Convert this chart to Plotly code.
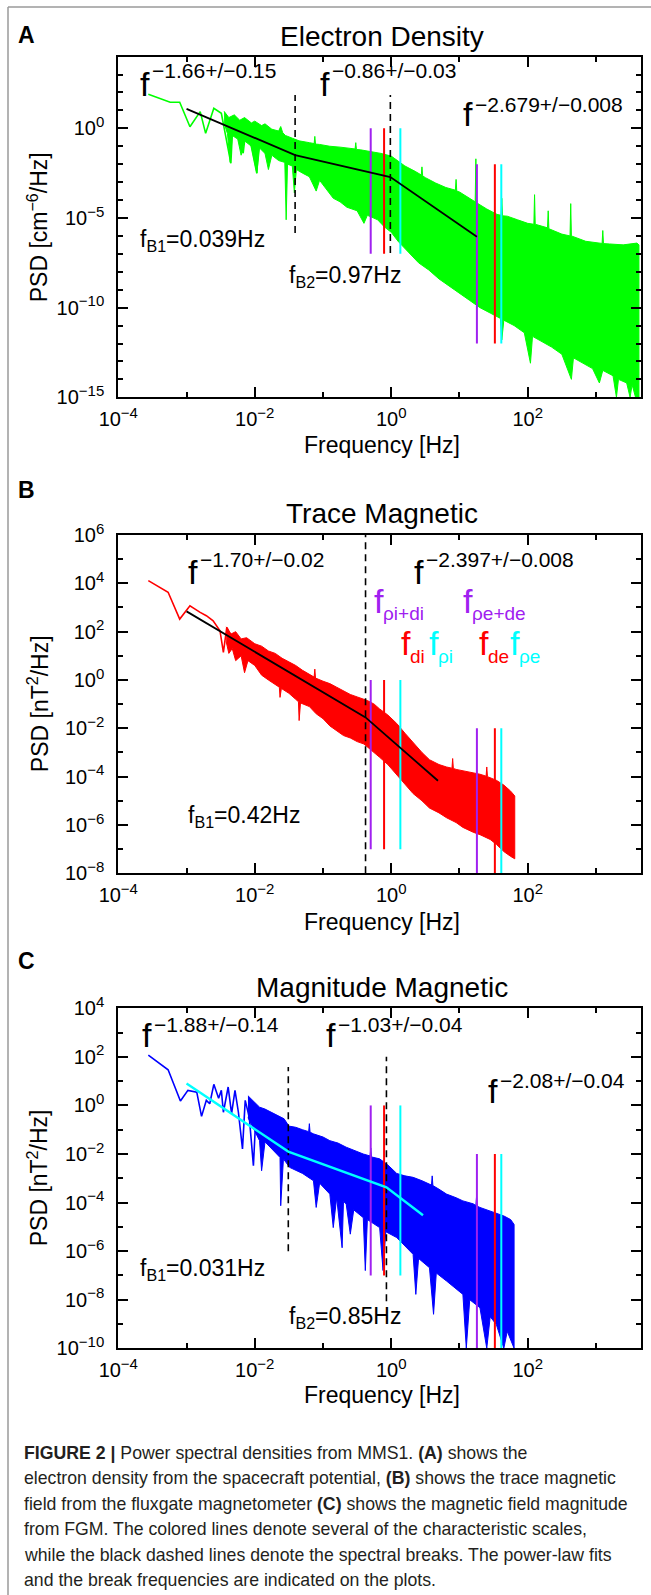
import numpy as np
import plotly.graph_objects as go

W, H = 651, 1595
FONT = "Liberation Sans, Arial, Helvetica, sans-serif"
CAP_FONT = FONT

PURPLE, RED, CYAN = "#A020F0", "#FF0000", "#00FFFF"

# ---------------- values (log10 units) ----------------
# Panel A : electron density
A_line_logf = [-3.56, -3.24, -3.10, -2.95, -2.80, -2.72, -2.60, -2.49, -2.35, -2.32, -2.17, -2.12, -1.97, -1.93]
A_line_logp = [1.90, 1.45, 1.45, 0.09, 0.93, -0.28, 1.12, 0.84, -1.95, 0.46, -1.39, 0.28, -2.51, 0.10]
A_up_logf = [-2.45, -2.38, -2.30, -2.22, -2.15, -2.05, -2.00, -1.90, -1.85, -1.75, -1.65, -1.62, -1.59, -1.55,
             -1.45, -1.35, -1.20, -1.13, -1.12, -1.11, -1.05, -0.90, -0.75, -0.60, -0.53, -0.52, -0.51, -0.45,
             -0.30, -0.15, 0.00, 0.10, 0.20, 0.35, 0.44, 0.45, 0.46, 0.50, 0.65, 0.80, 0.94, 0.95, 0.96,
             1.00, 1.15, 1.23, 1.24, 1.25, 1.40, 1.55, 1.61, 1.62, 1.63, 1.70, 1.85, 2.00, 2.09, 2.10, 2.11,
             2.29, 2.30, 2.31, 2.50, 2.62, 2.63, 2.64, 2.85, 3.00, 3.09, 3.10, 3.11, 3.20, 3.40, 3.60, 3.63]
A_up_logp = [0.95, 0.60, 0.75, 0.45, 0.60, 0.30, 0.40, 0.15, 0.25, -0.05, -0.15, 0.10, -0.25, -0.40,
             -0.55, -0.70, -0.80, -0.85, -0.45, -0.88, -0.90, -1.00, -1.05, -1.10, -1.15, -0.80, -1.18, -1.20,
             -1.30, -1.40, -1.55, -1.85, -2.10, -2.40, -2.60, -2.15, -2.65, -2.75, -3.05, -3.30, -3.45, -2.85, -3.50,
             -3.55, -3.90, -4.10, -1.70, -4.15, -4.50, -4.80, -4.85, -3.90, -4.88, -4.90, -5.10, -5.30, -5.35, -3.70, -5.35,
             -5.55, -4.60, -5.60, -5.90, -6.00, -4.20, -6.00, -6.30, -6.40, -6.42, -5.70, -6.43, -6.45, -6.50, -6.40, -6.50]
A_lo_logf = [-2.45, -2.40, -2.36, -2.33, -2.25, -2.20, -2.15, -2.05, -1.97, -1.93, -1.85, -1.80, -1.75, -1.65,
             -1.56, -1.54, -1.52, -1.45, -1.42, -1.39, -1.30, -1.20, -1.10, -1.05, -0.95, -0.85, -0.75, -0.65,
             -0.50, -0.40, -0.35, -0.20, -0.10, 0.00, 0.10, 0.25, 0.40, 0.55, 0.70, 0.85, 1.00, 1.15, 1.30,
             1.45, 1.60, 1.62, 1.65, 1.80, 1.95, 2.04, 2.07, 2.20, 2.35, 2.50, 2.64, 2.67, 2.80, 2.95, 3.05,
             3.10, 3.25, 3.30, 3.33, 3.45, 3.50, 3.53, 3.58, 3.63]
A_lo_logp = [0.30, -0.30, -1.90, -0.40, -0.60, -1.50, -0.70, -1.00, -2.50, -1.10, -1.40, -2.30, -1.50, -1.80,
             -1.90, -5.10, -2.00, -2.10, -3.60, -2.30, -2.50, -2.70, -3.50, -2.90, -3.40, -3.90, -4.10, -4.40,
             -4.60, -5.30, -4.85, -5.10, -5.50, -5.80, -6.30, -6.90, -7.50, -7.90, -8.40, -8.80, -9.20, -9.60, -10.00,
             -10.30, -10.60, -11.80, -10.70, -11.00, -11.40, -13.10, -11.60, -11.90, -12.20, -12.60, -14.00, -12.80, -13.10, -13.40, -14.20,
             -13.50, -13.80, -15.00, -14.00, -14.20, -15.00, -14.30, -15.00, -15.00]
A_fit_f = [0.001, 0.039, 0.97, 18.0]
A_fit_logp = [1.08, -1.49, -2.72, -6.05]
A_break_f = [0.039, 0.97]
A_break_top = [1.86, 1.86]
A_break_bot = [-5.84, -6.96]

# Panel B : trace magnetic
B_line_logf = [-3.56, -3.27, -3.10, -2.95, -2.80, -2.71, -2.61, -2.56, -2.51, -2.46, -2.41, -2.32, -2.22, -2.12]
B_line_logp = [4.11, 3.63, 2.52, 3.07, 2.80, 2.66, 2.45, 2.24, 2.04, 1.14, 2.18, 1.70, 1.42, 1.63]
B_up_logf = [-2.42, -2.35, -2.28, -2.20, -2.12, -2.00, -1.90, -1.80, -1.70, -1.60, -1.50, -1.40, -1.30, -1.20,
             -1.13, -1.12, -1.11, -1.00, -0.90, -0.80, -0.70, -0.60, -0.50, -0.40, -0.35, -0.25, -0.17, -0.05,
             0.08, 0.20, 0.32, 0.45, 0.56, 0.70, 0.81, 0.89, 0.90, 0.91, 0.95, 1.10, 1.30, 1.39, 1.40,
             1.41, 1.45, 1.54, 1.65, 1.75, 1.81]
B_up_logp = [2.20, 1.90, 2.00, 1.70, 1.75, 1.50, 1.40, 1.20, 1.10, 0.90, 0.75, 0.60, 0.40, 0.25,
             0.12, 0.45, 0.08, -0.05, -0.15, -0.30, -0.45, -0.60, -0.70, -0.80, -0.85, -1.00, -1.20, -1.45,
             -1.80, -2.20, -2.60, -3.00, -3.30, -3.50, -3.60, -3.65, -3.25, -3.66, -3.70, -3.78, -3.90, -3.98, -3.60,
             -4.00, -4.05, -4.15, -4.35, -4.60, -4.80]
B_lo_logf = [-2.42, -2.38, -2.33, -2.28, -2.20, -2.15, -2.10, -2.00, -1.90, -1.80, -1.70, -1.64, -1.63, -1.61,
             -1.50, -1.40, -1.36, -1.35, -1.33, -1.20, -1.10, -1.00, -0.90, -0.80, -0.70, -0.60, -0.50, -0.40,
             -0.30, -0.17, -0.05, 0.08, 0.20, 0.32, 0.45, 0.56, 0.70, 0.81, 0.95, 1.05, 1.20, 1.30, 1.45,
             1.54, 1.65, 1.75, 1.81]
B_lo_logp = [1.60, 1.10, 1.30, 0.80, 1.00, 0.30, 0.80, 0.60, 0.20, 0.00, -0.20, -0.30, -0.72, -0.35,
             -0.55, -0.80, -0.90, -1.68, -0.95, -1.10, -1.40, -1.60, -1.90, -2.10, -2.30, -2.40, -2.55, -2.65,
             -2.90, -3.20, -3.50, -3.90, -4.30, -4.70, -5.00, -5.30, -5.50, -5.70, -5.90, -6.10, -6.30, -6.40, -6.60,
             -6.80, -7.10, -7.30, -7.40]
B_fit_f = [0.001, 0.42, 4.84]
B_fit_logp = [2.84, -1.55, -4.17]
B_break_f = [0.42]
B_break_top = [6.0]
B_break_bot = [-8.0]

# Panel C : magnitude magnetic
C_line_logf = [-3.56, -3.27, -3.09, -2.98, -2.85, -2.78, -2.71, -2.66, -2.60, -2.53, -2.49, -2.46, -2.39, -2.34,
               -2.29, -2.24, -2.18, -2.14, -2.08, -2.02, -1.98]
C_line_logp = [2.07, 1.47, 0.18, 0.62, 0.55, -0.45, 0.21, 0.07, 0.87, 0.30, 0.62, -0.28, 0.76, -0.34,
               0.62, -0.28, -1.79, 0.21, -0.50, -2.48, -0.20]
C_up_logf = [-2.10, -2.00, -1.93, -1.85, -1.75, -1.63, -1.57, -1.50, -1.40, -1.30, -1.21, -1.20, -1.19, -1.14,
             -1.00, -0.90, -0.78, -0.66, -0.55, -0.41, -0.31, -0.30, -0.29, -0.17, -0.05, 0.08, 0.20, 0.32,
             0.45, 0.56, 0.59, 0.60, 0.61, 0.70, 0.81, 0.95, 1.05, 1.20, 1.24, 1.25, 1.26, 1.30, 1.45,
             1.54, 1.65, 1.75, 1.80]
C_up_logp = [0.40, 0.10, -0.07, -0.15, -0.30, -0.48, -0.55, -0.85, -0.90, -1.00, -1.08, -0.75, -1.10, -1.17,
             -1.30, -1.45, -1.55, -1.72, -1.85, -2.00, -2.08, -1.75, -2.12, -2.20, -2.45, -2.80, -2.90, -2.96,
             -3.10, -3.24, -3.28, -2.90, -3.30, -3.45, -3.65, -3.80, -3.93, -4.05, -4.12, -3.75, -4.15, -4.20, -4.35,
             -4.41, -4.55, -4.70, -4.90]
C_lo_logf = [-2.10, -1.93, -1.90, -1.85, -1.63, -1.62, -1.58, -1.49, -1.30, -1.14, -1.10, -1.05, -0.90, -0.85,
             -0.80, -0.72, -0.70, -0.66, -0.60, -0.55, -0.41, -0.38, -0.35, -0.17, -0.12, -0.08, 0.08, 0.32,
             0.36, 0.40, 0.56, 0.62, 0.66, 0.81, 1.05, 1.10, 1.15, 1.30, 1.40, 1.45, 1.54, 1.65, 1.70, 1.80]
C_lo_logp = [-0.50, -1.45, -2.69, -1.50, -2.14, -4.13, -2.20, -2.55, -2.80, -3.10, -4.20, -3.20, -3.65, -5.03,
             -3.80, -5.86, -3.95, -4.06, -5.30, -4.30, -4.62, -6.80, -4.70, -5.03, -6.80, -5.20, -5.44, -6.13,
             -7.78, -6.30, -6.68, -8.60, -6.90, -7.23, -7.78, -10.00, -8.00, -8.33, -10.00, -8.70, -9.02, -10.00, -9.30, -10.00]
C_fit_f = [0.001, 0.031, 0.85, 2.92]
C_fit_logp = [0.90, -1.90, -3.37, -4.52]
C_break_f = [0.031, 0.85]
C_break_top = [1.58, 2.00]
C_break_bot = [-6.00, -8.06]

# characteristic scales [Hz] (purple, red, cyan) and their drawn extents (log10 PSD)
ion_scales = [0.50, 0.785, 1.36]
electron_scales = [18.0, 33.0, 41.0]
scale_colors = [PURPLE, RED, CYAN]
ion_span = [-7.0, 0.0]
electron_span = [-12.0, -2.0]

# axis ranges (log10)
x_range = [-4, 3.66]
A_yrange = [-15, 3.96]
B_yrange = [-8, 6]
C_yrange = [-10, 4]

# ---------------- layout geometry (pixels) ----------------
PLOT_L, PLOT_R = 118.3, 641.0
PANELS = {"A": (57.3, 397.3), "B": (535.0, 873.3), "C": (1008.3, 1348.3)}

fig = go.Figure()


def pw(v):
    return [10 ** a for a in v]


def add_panel(k, line_f, line_p, up_f, up_p, lo_f, lo_p, color, fit_f, fit_p, fit_color,
              br_f, br_top, br_bot):
    xa, ya = ("x" if k == 1 else f"x{k}"), ("y" if k == 1 else f"y{k}")
    band_x = pw(up_f) + pw(lo_f[::-1])
    band_y = pw(up_p) + pw(lo_p[::-1])
    fig.add_trace(go.Scatter(x=band_x, y=band_y, mode="lines", fill="toself", fillcolor=color,
                             line=dict(color=color, width=1), xaxis=xa, yaxis=ya, hoverinfo="skip"))
    fig.add_trace(go.Scatter(x=pw(line_f), y=pw(line_p), mode="lines",
                             line=dict(color=color, width=1.6), xaxis=xa, yaxis=ya))
    for f, c in zip(ion_scales, scale_colors):
        fig.add_trace(go.Scatter(x=[f, f], y=pw(ion_span), mode="lines", line=dict(color=c, width=2),
                                 xaxis=xa, yaxis=ya))
    for f, c in zip(electron_scales, scale_colors):
        fig.add_trace(go.Scatter(x=[f, f], y=pw(electron_span), mode="lines", line=dict(color=c, width=2),
                                 xaxis=xa, yaxis=ya))
    for f, t, b in zip(br_f, br_top, br_bot):
        fig.add_trace(go.Scatter(x=[f, f], y=pw([b, t]), mode="lines",
                                 line=dict(color="black", width=1.6, dash="7px,5px"), xaxis=xa, yaxis=ya))
    fig.add_trace(go.Scatter(x=fit_f, y=pw(fit_p), mode="lines",
                             line=dict(color=fit_color, width=2.4 if fit_color != "black" else 1.8),
                             xaxis=xa, yaxis=ya))


add_panel(1, A_line_logf, A_line_logp, A_up_logf, A_up_logp, A_lo_logf, A_lo_logp, "#00FF00",
          A_fit_f, A_fit_logp, "black", A_break_f, A_break_top, A_break_bot)
add_panel(2, B_line_logf, B_line_logp, B_up_logf, B_up_logp, B_lo_logf, B_lo_logp, "#FF0000",
          B_fit_f, B_fit_logp, "black", B_break_f, B_break_top, B_break_bot)
add_panel(3, C_line_logf, C_line_logp, C_up_logf, C_up_logp, C_lo_logf, C_lo_logp, "#0000FF",
          C_fit_f, C_fit_logp, CYAN, C_break_f, C_break_top, C_break_bot)


def sup_label(e):
    return '10<sup><span style="font-size:15px">%s</span></sup>' % (str(e).replace("-", "\u2212"))


def xaxis(anchor):
    major = [-4, -2, 0, 2]
    return dict(type="log", range=x_range, domain=[PLOT_L / W, PLOT_R / W], anchor=anchor,
                showline=True, linecolor="black", linewidth=2, mirror="ticks",
                ticks="inside", ticklen=10, tickwidth=1.5, tickcolor="black",
                tickvals=[10 ** e for e in major], ticktext=[sup_label(e) for e in major],
                tickfont=dict(family=FONT, size=20, color="black"), ticklabelstandoff=3,
                minor=dict(tickvals=[10 ** e for e in [-3, -1, 1, 3]], ticks="inside", ticklen=5,
                           tickwidth=1.5, tickcolor="black", showgrid=False),
                showgrid=False, zeroline=False, fixedrange=True, automargin=False)


def yaxis(anchor, top, bot, rng, major, minor):
    return dict(type="log", range=rng, domain=[1 - bot / H, 1 - top / H], anchor=anchor,
                showline=True, linecolor="black", linewidth=2, mirror="ticks",
                ticks="inside", ticklen=10, tickwidth=1.5, tickcolor="black",
                tickvals=[10 ** e for e in major], ticktext=[sup_label(e) for e in major],
                tickfont=dict(family=FONT, size=20, color="black"), ticklabelstandoff=8,
                minor=dict(tickvals=[10 ** e for e in minor], ticks="inside", ticklen=5,
                           tickwidth=1.5, tickcolor="black", showgrid=False),
                showgrid=False, zeroline=False, fixedrange=True, automargin=False)


tA, bA = PANELS["A"]
tB, bB = PANELS["B"]
tC, bC = PANELS["C"]
A_major = [-15, -10, -5, 0]
A_minor = [e for e in range(-15, 4) if e % 5 != 0]
B_major = list(range(-8, 7, 2))
B_minor = list(range(-7, 6, 2))
C_major = list(range(-10, 5, 2))
C_minor = list(range(-9, 4, 2))

fig.update_layout(
    xaxis=xaxis("y"), yaxis=yaxis("x", tA, bA, A_yrange, A_major, A_minor),
    xaxis2=xaxis("y2"), yaxis2=yaxis("x2", tB, bB, B_yrange, B_major, B_minor),
    xaxis3=xaxis("y3"), yaxis3=yaxis("x3", tC, bC, C_yrange, C_major, C_minor),
)


def ann(text, x, y, size, color="black", xanchor="left", yanchor="middle", angle=0, family=FONT):
    return dict(text=text, x=x / W, y=1 - y / H, xref="paper", yref="paper", xanchor=xanchor,
                yanchor=yanchor, showarrow=False, textangle=angle, borderpad=0,
                align=xanchor if xanchor in ("left", "right") else "center",
                font=dict(size=size, color=color, family=family))


M = "\u2212"
anns = []
for letter, ly in [("A", 35), ("B", 490), ("C", 961)]:
    anns.append(ann("<b>%s</b>" % letter, 26, ly, 23, xanchor="center"))
for title, ty in [("Electron Density", 37), ("Trace Magnetic", 513), ("Magnitude Magnetic", 987)]:
    anns.append(ann(title, 382, ty, 28, xanchor="center"))
for xy in [445, 922, 1395]:
    anns.append(ann("Frequency [Hz]", 382, xy, 23, xanchor="center"))
for txt, cy in [("PSD [cm<sup>%s6</sup>/Hz]" % M, (tA + bA) / 2), ("PSD [nT<sup>2</sup>/Hz]", (tB + bB) / 2),
                ("PSD [nT<sup>2</sup>/Hz]", (tC + bC) / 2)]:
    anns.append(ann(txt, 38, cy, 23, xanchor="center", angle=-90))

# power-law labels: (f x, f centre y, exponent text, sup x, sup centre y)
power_labels = [
    (139, 84, "%s1.66+/%s0.15" % (M, M), 151, 71),
    (319, 84, "%s0.86+/%s0.03" % (M, M), 331, 71),
    (462, 114, "%s2.679+/%s0.008" % (M, M), 474, 104),
    (187, 572, "%s1.70+/%s0.02" % (M, M), 199, 559),
    (413, 572, "%s2.397+/%s0.008" % (M, M), 425, 559),
    (141, 1035, "%s1.88+/%s0.14" % (M, M), 153, 1024),
    (325, 1035, "%s1.03+/%s0.04" % (M, M), 337, 1024),
    (487, 1091, "%s2.08+/%s0.04" % (M, M), 499, 1080),
]
for fx, fy, txt, sx, sy in power_labels:
    anns.append(ann("f", fx, fy, 34))
    anns.append(ann(txt, sx, sy, 21))

for txt, x, y in [("f<sub>B1</sub>=0.039Hz", 139, 240), ("f<sub>B2</sub>=0.97Hz", 288, 277),
                  ("f<sub>B1</sub>=0.42Hz", 187, 816),
                  ("f<sub>B1</sub>=0.031Hz", 139, 1269), ("f<sub>B2</sub>=0.85Hz", 288, 1317)]:
    anns.append(ann(txt, x, y, 23))

for sub, fx, fy, col in [("\u03c1i+di", 373, 601, PURPLE), ("\u03c1e+de", 462, 601, PURPLE),
                         ("di", 400, 643, RED), ("\u03c1i", 428, 643, CYAN),
                         ("de", 478, 643, RED), ("\u03c1e", 509, 643, CYAN)]:
    anns.append(ann("f", fx, fy, 34, color=col))
    anns.append(ann(sub, fx + 9, fy + 13, 19, color=col))

CAP = "#231F20"
caption_lines = [
    "<b>FIGURE 2 |</b> Power spectral densities from MMS1. <b>(A)</b> shows the",
    "electron density from the spacecraft potential, <b>(B)</b> shows the trace magnetic",
    "field from the fluxgate magnetometer <b>(C)</b> shows the magnetic field magnitude",
    "from FGM. The colored lines denote several of the characteristic scales,",
    "while the black dashed lines denote the spectral breaks. The power-law fits",
    "and the break frequencies are indicated on the plots.",
]
for i, line in enumerate(caption_lines):
    anns.append(ann(line, 23, 1453 + i * 25.4, 17.7, color=CAP, family=CAP_FONT))

shapes = [
    dict(type="line", xref="paper", yref="paper", x0=8 / W, x1=1, y0=1 - 7 / H, y1=1 - 7 / H,
         line=dict(color="#9a9a9a", width=1.5)),
    dict(type="line", xref="paper", yref="paper", x0=8 / W, x1=8 / W, y0=0, y1=1 - 7 / H,
         line=dict(color="#9a9a9a", width=1.5)),
]

fig.update_layout(width=W, height=H, margin=dict(l=0, r=0, t=0, b=0, pad=0, autoexpand=False),
                  showlegend=False, plot_bgcolor="white", paper_bgcolor="white",
                  annotations=anns, shapes=shapes, font=dict(family=FONT, color="black"))
fig.write_html("out.html")
